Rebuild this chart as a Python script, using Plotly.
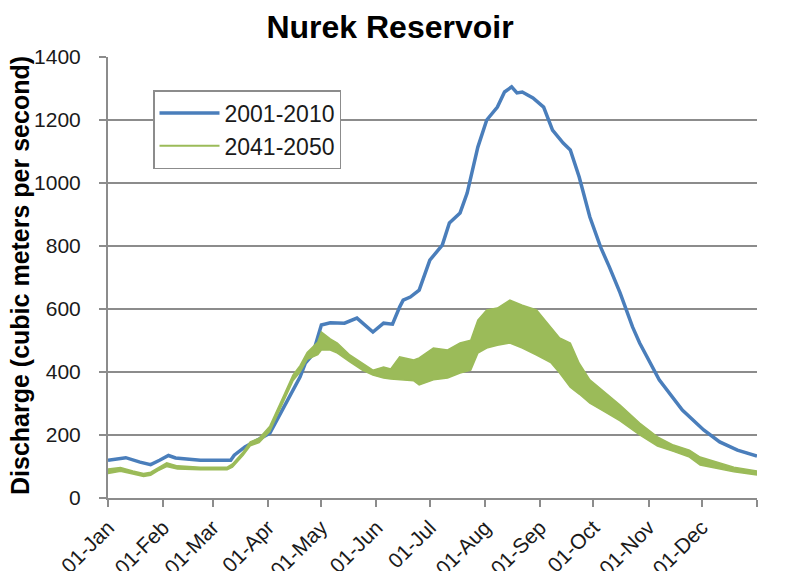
import plotly.graph_objects as go

# Day of year (0 = 01-Jan) and discharge values (m3/s)
blue_days = [0, 10, 18, 24, 29, 34, 38, 46, 52, 69, 71, 77, 83, 88, 91, 98, 104, 108, 111, 115, 118, 120,
             125, 133, 140, 146, 149, 155, 160, 164, 166, 170, 175, 181, 188, 192, 198, 202, 205, 208, 213,
             219, 223, 227, 230, 233, 239, 245, 250, 256, 260, 265, 271, 277, 282, 288, 295, 299, 310, 323,
             335, 344, 354, 365]
blue_vals = [120, 128, 114, 106, 120, 135, 127, 124, 120, 120, 136, 162, 181, 194, 206, 279, 343, 384, 428,
             454, 511, 549, 556, 555, 571, 540, 527, 555, 552, 606, 628, 638, 660, 755, 803, 873, 905, 968,
             1041, 1114, 1200, 1241, 1289, 1305, 1286, 1289, 1270, 1241, 1168, 1127, 1105, 1019, 892, 797,
             733, 651, 543, 492, 375, 279, 216, 178, 152, 133]

green_days = [0, 7, 14, 20, 24, 28, 33, 39, 52, 67, 70, 76, 80, 85, 91, 98, 104, 108, 112, 118, 120, 125,
              129, 136, 143, 149, 155, 159, 164, 172, 175, 183, 191, 198, 204, 208, 213, 219, 226, 233,
              241, 249, 254, 260, 265, 271, 278, 288, 299, 309, 318, 327, 333, 352, 365]
green_upper = [92, 97, 86, 78, 82, 96, 112, 102, 98, 98, 108, 146, 178, 190, 228, 315, 390, 420, 462, 495,
               527, 505, 492, 454, 428, 406, 416, 410, 448, 438, 445, 476, 470, 492, 501, 565, 597, 603,
               628, 612, 597, 543, 508, 492, 428, 375, 343, 295, 238, 194, 168, 152, 130, 98, 86]
green_lower = [78, 85, 76, 68, 72, 86, 100, 92, 90, 90, 98, 136, 166, 176, 212, 300, 372, 400, 440, 455,
               470, 470, 460, 432, 406, 390, 381, 378, 375, 372, 359, 375, 381, 397, 406, 460, 476, 485,
               492, 476, 454, 430, 397, 352, 330, 301, 278, 245, 200, 165, 148, 130, 105, 83, 73]

month_days = [0, 31, 59, 90, 120, 151, 181, 212, 243, 273, 304, 334, 365]
month_labels = ["01-Jan", "01-Feb", "01-Mar", "01-Apr", "01-May", "01-Jun", "01-Jul",
                "01-Aug", "01-Sep", "01-Oct", "01-Nov", "01-Dec", ""]
y_ticks = [0, 200, 400, 600, 800, 1000, 1200, 1400]

BLUE = "#4a7ebb"
GREEN = "#9bbb59"
FONT = "Liberation Sans, Arial, sans-serif"

# page has an 8px body margin: figure is sized/positioned to compensate
W, H = 788, 563

fig = go.Figure()
fig.add_trace(go.Scatter(x=blue_days, y=blue_vals, mode="lines", name="2001-2010",
                         line=dict(color=BLUE, width=3.5)))
fig.add_trace(go.Scatter(x=green_days, y=green_lower, mode="lines", showlegend=False,
                         line=dict(color=GREEN, width=1.5)))
fig.add_trace(go.Scatter(x=green_days, y=green_upper, mode="lines", showlegend=False,
                         fill="tonexty", fillcolor=GREEN, line=dict(color=GREEN, width=1.5)))
fig.add_trace(go.Scatter(x=[None], y=[None], mode="lines", name="2041-2050",
                         line=dict(color=GREEN, width=2)))

axis_common = dict(showline=True, linecolor="#8c8c8c", linewidth=2, ticks="outside",
                   ticklen=7, tickcolor="#8c8c8c", tickwidth=1.5, automargin=False,
                   tickfont=dict(family=FONT, size=21, color="#1a1a1a"), zeroline=False)

fig.update_xaxes(range=[0, 365], tickmode="array", tickvals=month_days, ticktext=month_labels,
                 tickangle=-45, showgrid=False, **axis_common)
fig.update_yaxes(range=[0, 1400], tickmode="array", tickvals=y_ticks, showgrid=True,
                 gridcolor="#8c8c8c", gridwidth=2, ticklabelstandoff=14, **axis_common)

fig.update_layout(
    width=W, height=H,
    margin=dict(l=100, r=39, t=49, b=73),
    paper_bgcolor="white", plot_bgcolor="white",
    title=dict(text="<b>Nurek Reservoir</b>", x=382 / W, xanchor="center", xref="container",
               y=1 - 19 / H, yanchor="middle", yref="container", automargin=False,
               font=dict(family=FONT, size=32, color="black")),
    legend=dict(x=(153 - 108) / 649, y=(498 - 90) / 441, xanchor="left", yanchor="top",
                traceorder="normal",
                bordercolor="#8c8c8c", borderwidth=1.5, bgcolor="white",
                font=dict(family=FONT, size=23, color="#1a1a1a"), itemwidth=60),
    annotations=[dict(text="<b>Discharge (cubic meters per second)</b>", textangle=-90,
                      xref="paper", yref="paper", x=-88 / 649, y=(498 - 276) / 441,
                      xanchor="center", yanchor="middle", showarrow=False,
                      font=dict(family=FONT, size=25, color="black"))],
    showlegend=True,
)

fig.write_html("out.html")
